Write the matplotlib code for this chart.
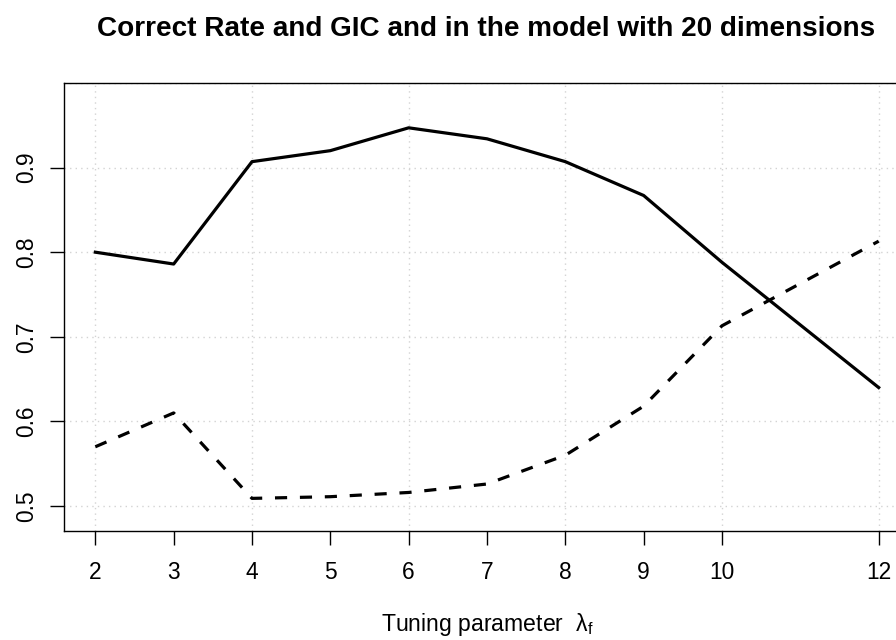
import matplotlib
matplotlib.use('Agg')
import matplotlib.pyplot as plt

plt.rcParams['font.family'] = ['Liberation Sans', 'DejaVu Sans']
plt.rcParams['mathtext.fontset'] = 'custom'
plt.rcParams['mathtext.rm'] = 'Liberation Sans'
plt.rcParams['mathtext.it'] = 'Liberation Sans'

# tuning parameter values and the two curves
lam = [2, 3, 4, 5, 6, 7, 8, 9, 10, 12]
correct_rate = [0.800, 0.786, 0.907, 0.920, 0.947, 0.934, 0.907, 0.867, 0.788, 0.640]
gic = [0.570, 0.610, 0.509, 0.511, 0.516, 0.526, 0.560, 0.618, 0.713, 0.813]
xticks = [2, 3, 4, 5, 6, 7, 8, 9, 10, 12]
yticks = [0.5, 0.6, 0.7, 0.8, 0.9]

fig = plt.figure(figsize=(8.96, 6.4), dpi=100)
ax = fig.add_axes([64 / 896, 1 - 530.7 / 640, 846 / 896, 447.3 / 640])

# light dotted grid like R's grid()
for gx in [2, 4, 6, 8, 10, 12]:
    ax.axvline(gx, color='#d3d3d3', lw=1.0, ls=(0, (1, 3)), zorder=0)
for gy in yticks + [1.0]:
    ax.axhline(gy, color='#d3d3d3', lw=1.0, ls=(0, (1, 3)), zorder=0)

ax.plot(lam, correct_rate, color='black', lw=2.3)
ax.plot(lam, gic, color='black', lw=2.3, ls=(0, (3.8, 4.0)),
        dash_capstyle='butt')

ax.set_xlim(1.6, 12.4)
ax.set_ylim(0.4708, 0.9995)
ax.set_xticks(xticks)
ax.set_xticklabels([str(v) for v in xticks])
ax.set_yticks(yticks)
ax.set_yticklabels(['0.5', '0.6', '0.7', '0.8', '0.9'], rotation=90, va='center')
ax.tick_params(direction='out', length=9.8, width=1.0, labelsize=16.4, pad=12)
ax.tick_params(axis='y', pad=9)
for s in ax.spines.values():
    s.set_linewidth(1.0)

fig.text(486 / 896, 1 - 36 / 640,
         'Correct Rate and GIC and in the model with 20 dimensions',
         ha='center', va='baseline', fontsize=20.1, fontweight='bold')
fig.text(487 / 896, 1 - 631 / 640, 'Tuning parameter  $\\mathregular{λ_f}$',
         ha='center', va='baseline', fontsize=16.6)

fig.savefig('out.png', dpi=100)
